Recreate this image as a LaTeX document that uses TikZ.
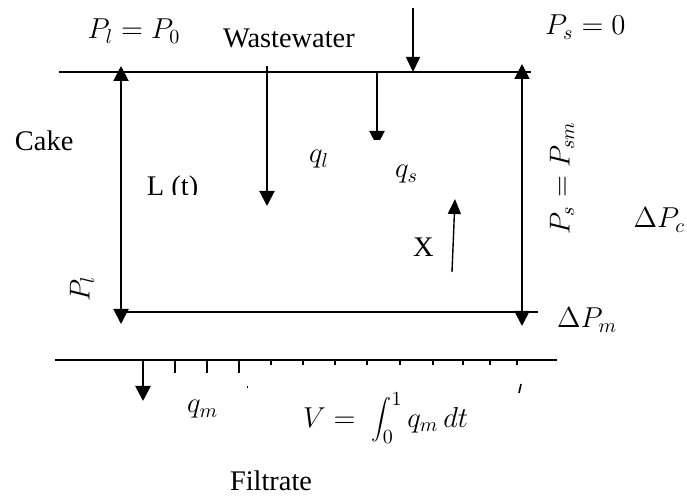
\documentclass[tikz,border=0pt]{standalone}
\usepackage{fontspec}
\setmainfont{Liberation Serif}
\usetikzlibrary{arrows.meta}
\begin{document}
\begin{tikzpicture}[x=0.5pt,y=-0.5pt,
  txt/.style={font=\fontsize{14.2}{17}\selectfont, inner sep=0pt, outer sep=0pt},
  mainline/.style={line width=1.3pt},
  arrline/.style={line width=1pt, -{Triangle[width=7.5pt,length=7.5pt]}},
  darrline/.style={line width=1pt, {Triangle[width=7.5pt,length=7.5pt]}-{Triangle[width=7.5pt,length=7.5pt]}},
  thinarr/.style={line width=0.8pt, -{Triangle[width=7pt,length=7.5pt]}}]
\useasboundingbox (0,0) rectangle (687,497);

% cake box
\coordinate (topL) at (59,72);  \coordinate (topR) at (531,72);
\coordinate (botL) at (120,312); \coordinate (botR) at (538,312);
\draw[mainline] (topL) -- (topR);
\draw[mainline] (botL) -- (botR);

\coordinate (lb) at (121,324); \coordinate (lt) at (121,66);
\draw[darrline] (lb) -- (lt);
\coordinate (rb) at (522,326); \coordinate (rt) at (522,64);
\draw[darrline] (rb) -- (rt);

% wastewater (q_l) arrow
\coordinate (ww1) at (267,66); \coordinate (ww2) at (267,206);
\draw[arrline] (ww1) -- (ww2);
% feed arrow
\coordinate (fd1) at (413,8); \coordinate (fd2) at (413,72);
\draw[thinarr] (fd1) -- (fd2);
% q_s arrow (tip cut off)
\coordinate (qs1) at (377,72); \coordinate (qs2) at (377,146);
\begin{scope}
  \clip (0,0) rectangle (687,140);
  \draw[arrline] (qs1) -- (qs2);
\end{scope}
% X arrow
\coordinate (x1) at (452,272); \coordinate (x2) at (455,199);
\draw[line width=0.7pt, -{Triangle[width=6.5pt,length=7.5pt]}] (x1) -- (x2);

% filter medium
\coordinate (mL) at (55,360); \coordinate (mR) at (557,360);
\draw[mainline] (mL) -- (mR);
\coordinate (qm1) at (143,360); \coordinate (qm2) at (143,401);
\draw[mainline, -{Triangle[width=7.5pt,length=7.5pt]}] (qm1) -- (qm2);
\foreach \xx in {175,207,239} \draw[mainline] (\xx,360) -- (\xx,373);
\foreach \xx in {271,303,335,367,400,433,463,490,517} \draw[mainline] (\xx,360) -- (\xx,365);
\draw[line width=0.4pt] (247,386) -- (247,388);
\draw[line width=0.8pt] (521,384) -- (519,393);

% labels
\node[txt, anchor=base] (plp0) at (134,39) {$P_l = P_0$};
\node[txt, anchor=base west] (ww) at (223,48) {Wastewater};
\node[txt, anchor=base west] (ps0) at (545,35) {$P_s = 0$};
\node[txt, anchor=base west] (cake) at (15,151) {Cake};
\begin{scope}
  \clip (100,150) rectangle (240,195);
  \node[txt, anchor=base west] (lt) at (147,196) {L (t)};
\end{scope}
\node[txt, anchor=base west] (ql) at (309,163) {$q_l$};
\node[txt, anchor=base west] (qs) at (395,178) {$q_s$};
\node[txt, anchor=base west] (xl) at (413,257) {X};
\node[txt, anchor=center, rotate=90] (pl) at (82,289) {$P_l$};
\node[txt, anchor=center, rotate=90] (pspsm) at (562,178) {$P_s = P_{sm}$};
\node[txt, anchor=base east] (dpc) at (685,228) {$\Delta P_c$};
\node[txt, anchor=base west] (dpm) at (557,328) {$\Delta P_m$};
\node[txt, anchor=base west] (qm) at (187,413) {$q_m$};
\node[txt, anchor=west] (vol) at (303,418) {$V = \;\displaystyle\int_0^1 q_m\, dt$};
\node[txt, anchor=base west] (filt) at (230,491) {Filtrate};
\end{tikzpicture}
\end{document}
